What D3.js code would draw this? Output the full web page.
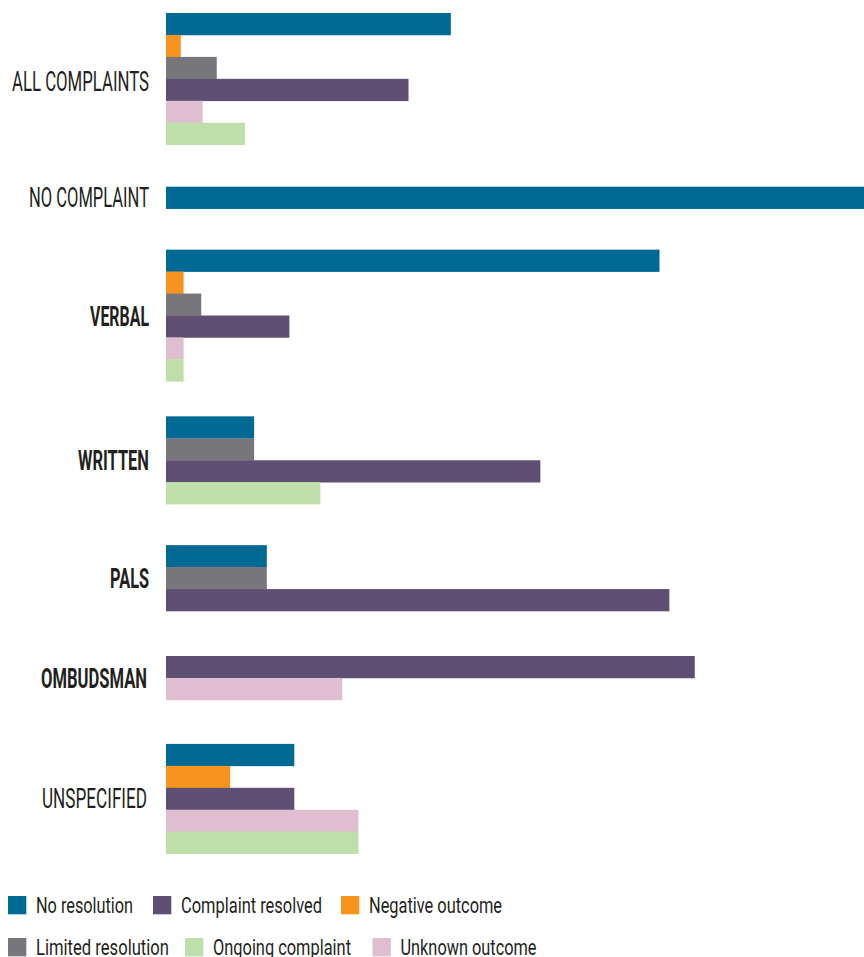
<!DOCTYPE html>
<html>
<head>
<meta charset="utf-8">
<script src="https://cdn.jsdelivr.net/npm/d3@7"></script>
<style>
  html, body { margin: 0; padding: 0; background: #ffffff; }
  svg { display: block; }
</style>
</head>
<body>
<svg id="chart" width="864" height="957"></svg>
<script>
// ---- data ----
const categories = ["ALL COMPLAINTS", "NO COMPLAINT", "VERBAL", "WRITTEN", "PALS", "OMBUDSMAN", "UNSPECIFIED"];
const seriesNames = ["No resolution", "Negative outcome", "Limited resolution", "Complaint resolved", "Unknown outcome", "Ongoing complaint"];
const noResolution      = [40.4, 100, 70.0, 12.5, 14.3, 0,  18.2];
const negativeOutcome   = [2.1,  0,   2.5,  0,    0,    0,  9.1];
const limitedResolution = [7.2,  0,   5.0,  12.5, 14.3, 0,  0];
const complaintResolved = [34.4, 0,   17.5, 53.1, 71.4, 75, 18.2];
const unknownOutcome    = [5.2,  0,   2.5,  0,    0,    25, 27.3];
const ongoingComplaint  = [11.2, 0,   2.5,  21.9, 0,    0,  27.3];
const legendRows = [
  ["No resolution", "Complaint resolved", "Negative outcome"],
  ["Limited resolution", "Ongoing complaint", "Unknown outcome"]
];

// ---- styles / layout ----
const seriesValues = [noResolution, negativeOutcome, limitedResolution, complaintResolved, unknownOutcome, ongoingComplaint];
const color = d3.scaleOrdinal()
  .domain(seriesNames)
  .range(["#006994", "#F7941D", "#77767B", "#5F5073", "#DFBFCF", "#BEDFA9"]);
const boldLabels = new Set(["VERBAL", "WRITTEN", "PALS", "OMBUDSMAN"]);
const labelWidths = {"ALL COMPLAINTS": 137, "NO COMPLAINT": 120, "VERBAL": 59, "WRITTEN": 71, "PALS": 39, "OMBUDSMAN": 106, "UNSPECIFIED": 105};
const labelRight = {"OMBUDSMAN": 147, "UNSPECIFIED": 147};
const labelShift = {"ALL COMPLAINTS": 3};

const svg = d3.select("#chart");
const x = d3.scaleLinear().domain([0, 100]).range([166, 871]);

const barH = 21.95, chartTop = 13;
const groupGaps = [42, 41, 35, 41, 45, 44];   // spacing after each group (layout)

// build groups with only non-zero bars
let yCursor = chartTop;
const groups = categories.map((cat, ci) => {
  const bars = seriesNames
    .map((s, si) => ({series: s, value: seriesValues[si][ci]}))
    .filter(d => d.value > 0);
  const y0 = yCursor;
  const h = bars.length * barH;
  yCursor += h + (groupGaps[ci] || 0);
  return {cat, bars, y0, h};
});

groups.forEach(g => {
  const yb = d3.scaleBand()
    .domain(g.bars.map(d => d.series))
    .range([g.y0, g.y0 + g.h])
    .paddingInner(0).paddingOuter(0);
  const gg = svg.append("g");
  gg.selectAll("rect")
    .data(g.bars)
    .join("rect")
    .attr("x", x(0))
    .attr("y", d => yb(d.series))
    .attr("width", d => Math.max(0, x(d.value) - x(0)))
    .attr("height", yb.bandwidth() + 0.3)
    .attr("fill", d => color(d.series));

  const bold = boldLabels.has(g.cat);
  const fs = bold ? 28.5 : 27;
  const cy = g.y0 + g.h / 2 + (labelShift[g.cat] || 0);
  gg.append("text")
    .attr("x", labelRight[g.cat] || 149)
    .attr("y", cy + fs * 0.355)
    .attr("text-anchor", "end")
    .attr("font-family", bold ? "'Liberation Sans Narrow', 'Roboto', sans-serif" : "Roboto, 'DejaVu Sans', sans-serif")
    .attr("font-weight", bold ? 700 : 400)
    .attr("font-size", fs)
    .attr("fill", "#231f20")
    .attr("textLength", labelWidths[g.cat])
    .attr("lengthAdjust", "spacingAndGlyphs")
    .text(g.cat);
});

// ---- legend ----
const legendTextX = [[36, 181, 369], [36, 213, 400.5]];
const legendTextW = {"No resolution": 97, "Complaint resolved": 141, "Negative outcome": 133,
  "Limited resolution": 133, "Ongoing complaint": 138, "Unknown outcome": 136};
const legendBase = [912.7, 954.7];

legendRows.forEach((row, ri) => {
  const lg = svg.append("g");
  const items = lg.selectAll("g")
    .data(row)
    .join("g")
    .attr("transform", (d, i) => `translate(${legendTextX[ri][i]},${legendBase[ri]})`);
  items.append("rect")
    .attr("x", -28)
    .attr("y", -16.7)
    .attr("width", 18.3)
    .attr("height", 18.3)
    .attr("fill", d => color(d));
  items.append("text")
    .attr("x", 0)
    .attr("y", 0)
    .attr("font-family", "'Liberation Sans Narrow', Roboto, sans-serif")
    .attr("font-size", 22.5)
    .attr("fill", "#231f20")
    .attr("textLength", d => legendTextW[d])
    .attr("lengthAdjust", "spacingAndGlyphs")
    .text(d => d);
});
</script>
</body>
</html>
